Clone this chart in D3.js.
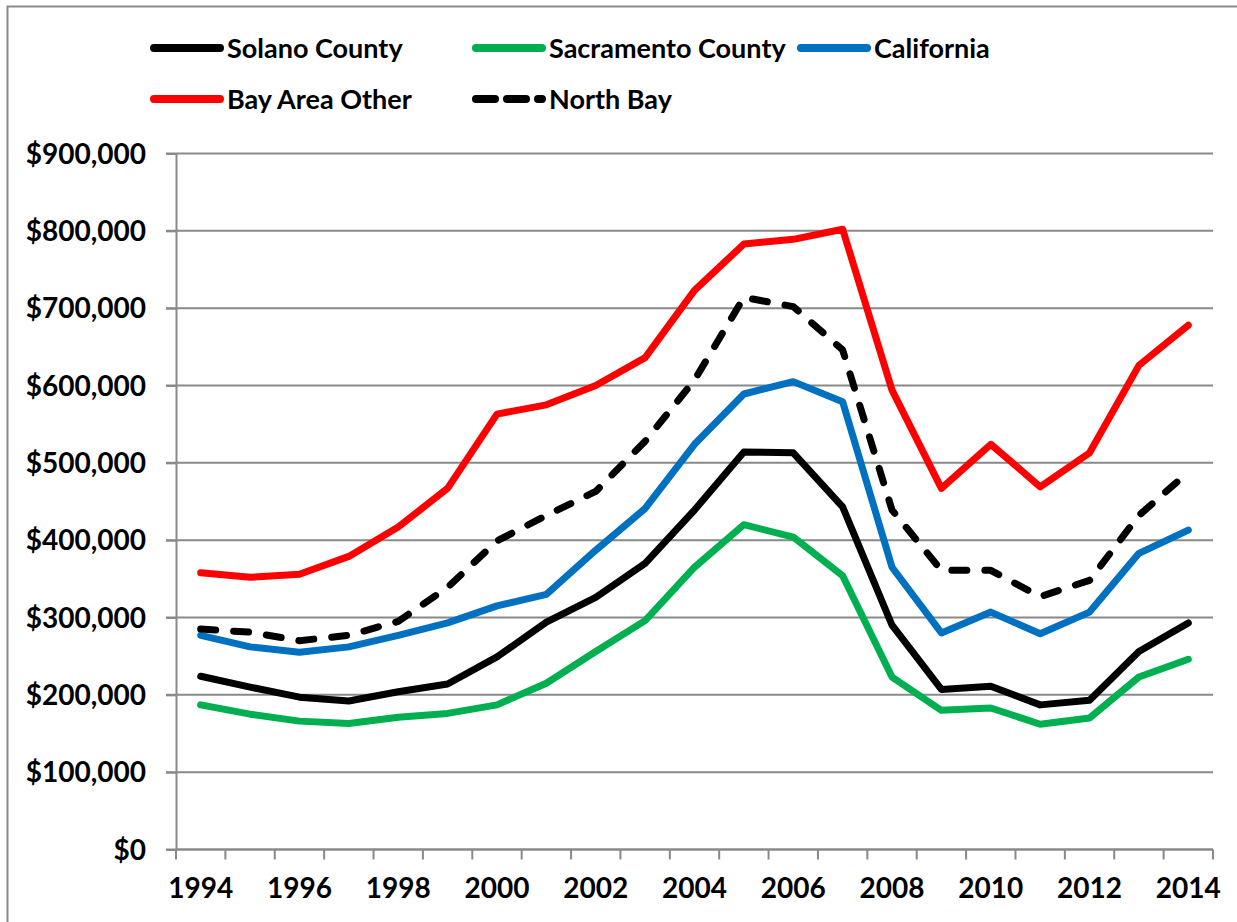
<!DOCTYPE html>
<html>
<head>
<meta charset="utf-8">
<script src="https://cdn.jsdelivr.net/npm/d3@7/dist/d3.min.js"></script>
<style>
  html, body { margin: 0; padding: 0; background: #fff; }
  svg { display: block; }
  text { font-family: Lato, "Open Sans", sans-serif; font-weight: 700; fill: #000; }
</style>
</head>
<body>
<svg id="chart" width="1237" height="922"></svg>
<script>
// Median home prices by region, 1994-2014
const years = d3.range(1994, 2015);
const yTicks = [0, 100000, 200000, 300000, 400000, 500000, 600000, 700000, 800000, 900000];

const solano = [224000, 210000, 197000, 192000, 204000, 214000, 249000, 294000, 326000, 370000,
  439000, 514000, 513000, 443000, 290000, 207000, 211000, 187000, 193000, 256000, 293000];
const sacramento = [187000, 175000, 166000, 163000, 171000, 176000, 187000, 215000, 256000, 296000,
  365000, 420000, 404000, 354000, 223000, 180000, 183000, 162000, 170000, 223000, 246000];
const california = [277000, 262000, 255000, 262000, 277000, 293000, 315000, 330000, 387000, 441000,
  524000, 589000, 605000, 579000, 365000, 280000, 307000, 279000, 307000, 383000, 413000];
const bayAreaOther = [358000, 352000, 356000, 379000, 417000, 467000, 563000, 575000, 600000, 636000,
  723000, 783000, 789000, 802000, 594000, 467000, 524000, 469000, 513000, 626000, 678000];
const northBay = [285000, 281000, 270000, 277000, 295000, 339000, 399000, 432000, 463000, 528000,
  607000, 714000, 702000, 646000, 439000, 361000, 361000, 327000, 348000, 432000, 488000];

const series = [
  { name: "Solano County", values: solano, color: "#000000", dash: null },
  { name: "Sacramento County", values: sacramento, color: "#00B050", dash: null },
  { name: "California", values: california, color: "#0070C0", dash: null },
  { name: "Bay Area Other", values: bayAreaOther, color: "#FF0000", dash: null },
  { name: "North Bay", values: northBay, color: "#000000", dash: "15,18" }
];

const svg = d3.select("#chart");
const W = 1237, H = 922;
const plotL = 176, plotR = 1213, plotT = 153.5, plotB = 849.5;
const gridColor = "#898989";

svg.append("rect").attr("width", W).attr("height", H).attr("fill", "#fff");

// outer chart frame
svg.append("path")
  .attr("d", `M7.5,${H + 5} V6.5 H${W + 5}`)
  .attr("fill", "none").attr("stroke", gridColor).attr("stroke-width", 2);

const x = d3.scaleBand().domain(years).range([plotL, plotR]).padding(0);
const y = d3.scaleLinear().domain([0, 900000]).range([plotB, plotT]);
const cx = d => x(d) + x.bandwidth() / 2;

// horizontal gridlines
svg.append("g").selectAll("line").data(yTicks).join("line")
  .attr("x1", plotL - 10).attr("x2", plotR)
  .attr("y1", d => y(d)).attr("y2", d => y(d))
  .attr("stroke", gridColor).attr("stroke-width", 2);

// y axis
const yAxis = d3.axisLeft(y).tickValues(yTicks).tickSize(10).tickPadding(20)
  .tickFormat(d => "$" + d3.format(",")(d));
const gy = svg.append("g").attr("transform", `translate(${plotL},0)`).call(yAxis);
gy.select(".domain").attr("stroke", gridColor).attr("stroke-width", 2);
gy.selectAll(".tick line").attr("stroke", gridColor).attr("stroke-width", 2);
gy.selectAll(".tick text").style("font-size", "28px").attr("fill", "#000").attr("dy", "0.35em");

// x axis: ticks on category boundaries, labels every other year
const boundaries = years.map(d => x(d)).concat([plotR]);
const gx = svg.append("g");
gx.append("line").attr("x1", plotL).attr("x2", plotR).attr("y1", plotB).attr("y2", plotB)
  .attr("stroke", gridColor).attr("stroke-width", 2);
gx.selectAll("line.tick").data(boundaries).join("line").attr("class", "tick")
  .attr("x1", d => d).attr("x2", d => d).attr("y1", plotB).attr("y2", plotB + 10)
  .attr("stroke", gridColor).attr("stroke-width", 2);
gx.selectAll("text").data(years.filter(d => (d - 1994) % 2 === 0)).join("text")
  .attr("x", d => cx(d)).attr("y", plotB + 48)
  .attr("text-anchor", "middle").style("font-size", "28px")
  .text(d => d);

// series lines
const line = d3.line().x((d, i) => cx(years[i])).y(d => y(d));
svg.append("g").selectAll("path").data(series).join("path")
  .attr("d", s => line(s.values))
  .attr("fill", "none")
  .attr("stroke", s => s.color)
  .attr("stroke-width", 7)
  .attr("stroke-linejoin", "round")
  .attr("stroke-linecap", "round")
  .attr("stroke-dasharray", s => s.dash);

// legend
const legendPos = [
  { x: 150, y: 48 }, { x: 472, y: 48 }, { x: 797, y: 48 },
  { x: 150, y: 99 }, { x: 472, y: 99 }
];
const lg = svg.append("g").selectAll("g").data(series).join("g")
  .attr("transform", (s, i) => `translate(${legendPos[i].x},${legendPos[i].y})`);
lg.append("line")
  .attr("x1", 4).attr("x2", 70).attr("y1", 0).attr("y2", 0)
  .attr("stroke", s => s.color).attr("stroke-width", 8)
  .attr("stroke-linecap", "round")
  .attr("stroke-dasharray", s => s.dash ? "19,12" : null);
lg.append("text")
  .attr("x", 77).attr("y", 0).attr("dy", "0.36em")
  .style("font-size", "27px")
  .text(s => s.name);
</script>
</body>
</html>
